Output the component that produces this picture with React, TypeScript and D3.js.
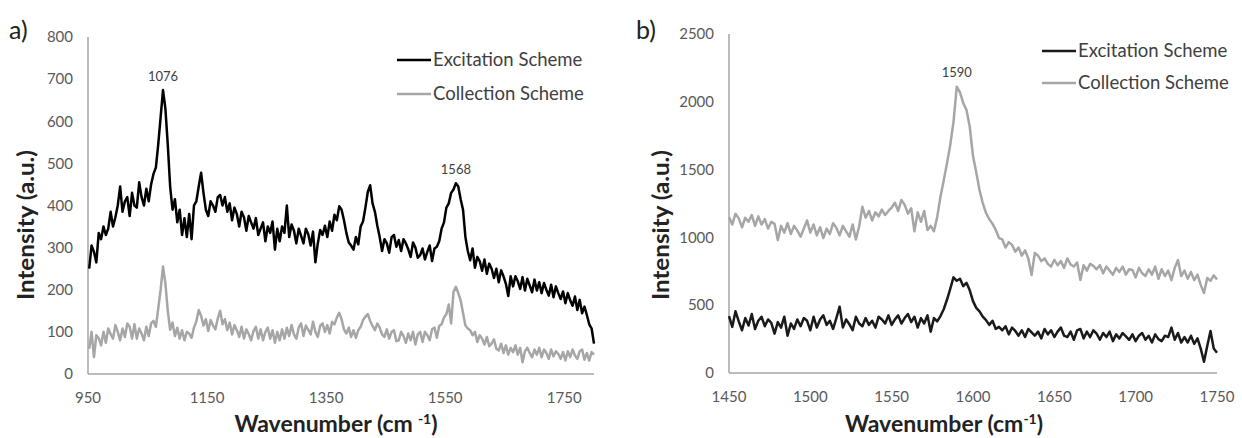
import React from "react";
import * as d3 from "d3";

// Panel a) — sampled every 4 cm-1 from 952 to 1800
const A_START = 952;
const A_STEP = 4;
const excitationA = [
  250, 305, 290, 265, 335, 320, 350, 330, 345, 385,
  350, 372, 400, 445, 385, 410, 420, 375, 430, 400,
  395, 455, 420, 400, 440, 410, 450, 475, 490, 545,
  610, 674, 630, 545, 445, 390, 415, 360, 390, 330,
  370, 325, 380, 320, 400, 410, 445, 478, 430, 390,
  375, 410, 400, 385, 420, 425, 400, 420, 385, 405,
  365, 395, 380, 350, 385, 372, 340, 375, 360, 345,
  370, 330, 345, 360, 315, 350, 335, 362, 295, 345,
  315, 350, 335, 400, 325, 355, 340, 310, 345, 328,
  310, 345, 332, 305, 338, 265, 310, 342, 330, 352,
  325, 362, 340, 378, 365, 398, 390, 365, 335, 312,
  305, 295, 325, 308, 350, 362, 395, 432, 448, 405,
  385, 352, 325, 292, 320, 310, 288, 325, 330, 302,
  318, 292, 320, 310, 296, 278, 312, 300, 276, 282,
  298, 272, 290, 305, 268, 298, 302, 315, 345, 360,
  395, 405, 430, 438, 453, 445, 415, 390, 325, 292,
  270, 298, 252, 278, 268, 245, 272, 238, 262, 250,
  228, 250, 218, 246, 232, 214, 185, 232, 208, 232,
  220, 202, 230, 198, 226, 210, 194, 224, 198, 218,
  192, 216, 200, 186, 212, 182, 208, 192, 178, 196,
  168, 192, 175, 162, 184, 152, 176, 144, 160, 140,
  118, 108, 72,
];
const collectionA = [
  60, 100, 40, 92, 85, 68, 100, 74, 108, 95,
  84, 116, 100, 80, 108, 88, 120, 112, 84, 118,
  84, 108, 96, 80, 112, 90, 120, 126, 112, 155,
  200, 255, 215, 150, 105, 122, 90, 110, 84, 104,
  80, 100, 96, 86, 110, 125, 152, 138, 115, 130,
  102, 128, 115, 106, 132, 150, 118, 130, 104, 122,
  94, 116, 104, 88, 112, 84, 106, 95, 80, 102,
  112, 84, 106, 80, 100, 110, 84, 104, 74, 100,
  80, 106, 84, 110, 90, 116, 94, 84, 110, 120,
  90, 115, 105, 94, 124, 100, 88, 114, 120, 100,
  116, 96, 124, 118, 134, 145, 130, 106, 96, 110,
  88, 104, 86, 104, 112, 128, 136, 142, 126, 114,
  104, 120, 110, 94, 88, 106, 84, 100, 104, 78,
  80, 100, 90, 74, 96, 80, 100, 70, 94, 100,
  76, 100, 92, 80, 106, 110, 86, 114, 118, 134,
  142, 165, 120, 195, 207, 192, 175, 145, 115, 108,
  104, 92, 100, 76, 92, 84, 70, 88, 66, 72,
  82, 60, 56, 72, 50, 68, 46, 62, 52, 68,
  46, 62, 28, 54, 62, 50, 40, 58, 46, 62,
  40, 58, 50, 36, 58, 42, 54, 48, 36, 52,
  32, 54, 40, 58, 44, 36, 54, 58, 34, 50,
  32, 52, 46,
];
const xTicksA = [950, 1150, 1350, 1550, 1750];
const yTicksA = [0, 100, 200, 300, 400, 500, 600, 700, 800];
const peaksA = [1076, 1568];

// Panel b) — sampled every 2 cm-1 from 1450 to 1750
const B_START = 1450;
const B_STEP = 2;
const excitationB = [
  420, 340, 455, 380, 315, 405, 350, 435, 325, 385,
  415, 345, 395, 370, 290, 375, 335, 415, 275, 365,
  325, 395, 345, 405, 385, 315, 415, 335, 395, 425,
  355, 385, 325, 405, 489, 335, 395, 360, 315, 415,
  365, 345, 405, 355, 385, 335, 415, 395, 365, 425,
  355, 395, 425, 365, 405, 435, 375, 415, 335, 405,
  365, 425, 305, 405, 380, 420, 470, 540, 620, 705,
  680, 695, 640, 665, 610, 530, 480, 455, 415, 390,
  355, 385, 325, 340, 315, 345, 285, 335, 310, 275,
  315, 265, 325, 300, 275, 305, 255, 325, 285, 315,
  265, 305, 335, 275, 265, 305, 245, 315, 325, 255,
  305, 265, 315, 290, 245, 295, 265, 305, 235, 285,
  255, 295, 270, 245, 285, 235, 275, 295, 245, 275,
  225, 285, 250, 235, 275, 265, 335, 245, 295, 225,
  265, 225, 275, 215, 255, 180, 83, 200, 310, 180,
  150,
];
const collectionB = [
  1150, 1095, 1175, 1140, 1075, 1145, 1115, 1165, 1085, 1155,
  1095, 1135, 1065, 1115, 1100, 980, 1085, 1035, 1105, 1025,
  1085, 1050, 1005, 1065, 1125, 1035, 1095, 1015, 1075, 995,
  1065, 1025, 1105, 1070, 1015, 1085, 1045, 1005, 1095, 985,
  1080, 1226, 1145, 1195, 1125, 1185, 1155, 1205, 1165, 1195,
  1220, 1255, 1195, 1276, 1240, 1175, 1215, 1045, 1185, 1115,
  1195, 1055, 1085, 1045, 1150, 1300, 1420, 1546, 1680, 1850,
  2111, 2070, 1990, 1940, 1816, 1600, 1480, 1350, 1253, 1180,
  1135, 1100, 1055, 995, 985, 925, 965, 945, 895, 925,
  865, 905, 845, 722, 885, 865, 825, 845, 805, 785,
  835, 795, 825, 775, 845, 800, 785, 815, 686, 795,
  755, 805, 790, 765, 795, 735, 785, 755, 725, 775,
  745, 785, 725, 765, 760, 705, 775, 735, 715, 765,
  725, 785, 695, 765, 715, 755, 685, 775, 833, 715,
  755, 695, 745, 685, 725, 650, 590, 700, 680, 720,
  690,
];
const xTicksB = [1450, 1500, 1550, 1600, 1650, 1700, 1750];
const yTicksB = [0, 500, 1000, 1500, 2000, 2500];
const peaksB = [1590];

const FONT = "Lato, 'Open Sans', sans-serif";
const AXIS = "#a6a6a6";
const TICK_TEXT = "#595959";
const GRAY = "#a6a6a6";

type Series = { name: string; values: number[]; color: string };

type PanelProps = {
  tag: string;
  start: number;
  step: number;
  series: Series[];
  peaks: { series: number; at: number }[];
  xDomain: [number, number];
  yDomain: [number, number];
  xRange: [number, number];
  yRange: [number, number];
  xTicks: number[];
  yTicks: number[];
  xTitleX: number;
  yTitleX: number;
  tagX: number;
  legendX: number;
  legendY: number;
  legendGap: number;
  superscriptSpace: boolean;
};

function Panel(p: PanelProps) {
  const x = d3.scaleLinear().domain(p.xDomain).range(p.xRange);
  const y = d3.scaleLinear().domain(p.yDomain).range(p.yRange);
  const line = d3
    .line<number>()
    .x((_, i) => x(p.start + i * p.step))
    .y((v) => y(v));
  const [x0, x1] = p.xRange;
  const [yb] = p.yRange;

  return (
    <g>
      <text x={p.tagX} y={39} fontFamily={FONT} fontSize={25} fill="#222">
        {p.tag}
      </text>
      {/* axes */}
      <line x1={x0} x2={x0} y1={p.yRange[1]} y2={yb} stroke={AXIS} strokeWidth={1.5} />
      <line x1={x0} x2={x1} y1={yb} y2={yb} stroke={AXIS} strokeWidth={1.5} />
      {p.yTicks.map((t) => (
        <text
          key={"y" + t}
          x={x0 - 15}
          y={y(t)}
          dy="0.35em"
          textAnchor="end"
          fontFamily={FONT}
          fontSize={15}
          fill={TICK_TEXT}
        >
          {t}
        </text>
      ))}
      {p.xTicks.map((t) => (
        <text
          key={"x" + t}
          x={x(t)}
          y={yb + 24}
          dy="0.35em"
          textAnchor="middle"
          fontFamily={FONT}
          fontSize={15}
          fill={TICK_TEXT}
        >
          {t}
        </text>
      ))}
      {/* series */}
      {p.series.map((s) => (
        <path
          key={s.name}
          d={line(s.values) ?? ""}
          fill="none"
          stroke={s.color}
          strokeWidth={2.5}
          strokeLinejoin="round"
        />
      ))}
      {p.peaks.map((pk) => {
        const s = p.series[pk.series];
        const i = Math.round((pk.at - p.start) / p.step);
        return (
          <text
            key={"pk" + pk.at}
            x={x(pk.at)}
            y={y(s.values[i]) - 14}
            dy="0.35em"
            textAnchor="middle"
            fontFamily={FONT}
            fontSize={13}
            fill="#404040"
          >
            {pk.at}
          </text>
        );
      })}
      {/* legend */}
      {p.series.map((s, i) => (
        <g key={"lg" + s.name} transform={`translate(${p.legendX},${p.legendY + i * p.legendGap})`}>
          <line x1={0} x2={34} y1={0} y2={0} stroke={s.color} strokeWidth={2.5} />
          <text x={36} y={0} dy="0.35em" fontFamily={FONT} fontSize={18.5} fill="#404040">
            {s.name}
          </text>
        </g>
      ))}
      {/* titles */}
      <text
        x={p.xTitleX}
        y={432}
        textAnchor="middle"
        fontFamily={FONT}
        fontSize={23}
        fontWeight="bold"
        fill="#222"
      >
        {"Wavenumber (cm"}
        <tspan dx={p.superscriptSpace ? 5 : 0} dy={-8} fontSize={14}>
          -1
        </tspan>
        <tspan dy={8}>)</tspan>
      </text>
      <text
        transform={`translate(${p.yTitleX},225) rotate(-90)`}
        textAnchor="middle"
        dy="0.35em"
        fontFamily={FONT}
        fontSize={23}
        fontWeight="bold"
        fill="#222"
        textLength={150}
        lengthAdjust="spacingAndGlyphs"
      >
        Intensity (a.u.)
      </text>
    </g>
  );
}

export default function App() {
  return (
    <svg
      width={1242}
      height={438}
      viewBox="0 0 1242 438"
      style={{ position: "absolute", left: 0, top: 0, background: "#fff" }}
    >
      <rect width={1242} height={438} fill="#fff" />
      <Panel
        tag="a)"
        start={A_START}
        step={A_STEP}
        series={[
          { name: "Excitation Scheme", values: excitationA, color: "#000" },
          { name: "Collection Scheme", values: collectionA, color: GRAY },
        ]}
        peaks={peaksA.map((at) => ({ series: 0, at }))}
        xDomain={[950, 1800]}
        yDomain={[0, 800]}
        xRange={[88, 594]}
        yRange={[374, 37]}
        xTicks={xTicksA}
        yTicks={yTicksA}
        xTitleX={336}
        yTitleX={26}
        tagX={9}
        legendX={397}
        legendY={60}
        legendGap={34}
        superscriptSpace={true}
      />
      <Panel
        tag="b)"
        start={B_START}
        step={B_STEP}
        series={[
          { name: "Excitation Scheme", values: excitationB, color: "#1a1a1a" },
          { name: "Collection Scheme", values: collectionB, color: GRAY },
        ]}
        peaks={peaksB.map((at) => ({ series: 1, at }))}
        xDomain={[1450, 1750]}
        yDomain={[0, 2500]}
        xRange={[729, 1217]}
        yRange={[373, 34]}
        xTicks={xTicksB}
        yTicks={yTicksB}
        xTitleX={944}
        yTitleX={661}
        tagX={636}
        legendX={1042}
        legendY={51}
        legendGap={32}
        superscriptSpace={false}
      />
    </svg>
  );
}
